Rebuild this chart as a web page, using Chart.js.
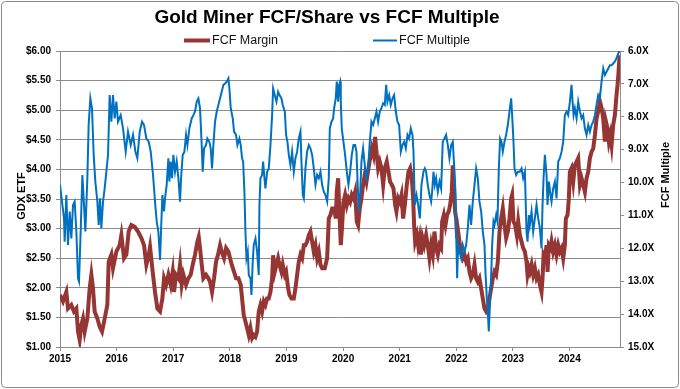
<!DOCTYPE html>
<html>
<head>
<meta charset="utf-8">
<script src="https://cdn.jsdelivr.net/npm/chart.js@4.4.1/dist/chart.umd.min.js"></script>
<style>
html,body{margin:0;padding:0;background:#fff;}
#wrap{width:680px;height:389px;position:relative;}
</style>
</head>
<body>
<div id="wrap"><canvas id="c" width="680" height="389"></canvas></div>
<script>
const chartTitle = "Gold Miner FCF/Share vs FCF Multiple";
const seriesNames = ["FCF Margin", "FCF Multiple"];
const leftAxisTitle = "GDX ETF";
const rightAxisTitle = "FCF Multiple";
const xTicks = [2015, 2016, 2017, 2018, 2019, 2020, 2021, 2022, 2023, 2024];

const marginYears = [
2015.000,2015.053,2015.112,2015.141,2015.200,2015.247,2015.289,2015.318,2015.347,2015.377,2015.406,2015.436,2015.483,2015.524,2015.554,2015.583,2015.612,2015.660,2015.701,2015.742,2015.789,2015.836,2015.860,2015.907,2015.936,2015.995,
2016.054,2016.084,2016.131,2016.172,2016.213,2016.260,2016.319,2016.378,2016.437,2016.484,2016.525,2016.567,2016.590,2016.637,2016.678,2016.720,2016.767,2016.808,2016.837,2016.873,2016.914,2016.955,2016.990,
2017.014,2017.049,2017.091,2017.120,2017.149,2017.179,2017.226,2017.267,2017.308,2017.344,2017.385,2017.426,2017.450,2017.473,2017.503,2017.532,2017.579,2017.621,2017.650,2017.685,2017.721,2017.756,2017.791,2017.827,2017.856,2017.897,2017.933,2017.974,
2018.003,2018.033,2018.074,2018.109,2018.151,2018.192,2018.245,2018.275,2018.304,2018.334,2018.363,2018.393,2018.422,2018.452,2018.481,2018.510,2018.540,2018.569,2018.599,2018.628,2018.658,2018.687,2018.717,2018.746,2018.764,2018.793,2018.823,2018.852,2018.876,2018.911,2018.934,2018.970,2018.993,
2019.029,2019.052,2019.088,2019.129,2019.158,2019.188,2019.217,2019.247,2019.276,2019.306,2019.335,2019.364,2019.394,2019.423,2019.453,2019.482,2019.512,2019.541,2019.571,2019.600,2019.629,2019.676,2019.718,2019.747,2019.777,2019.806,2019.841,2019.870,2019.888,2019.912,2019.929,2019.959,2019.976,
2020.006,2020.035,2020.065,2020.094,2020.124,2020.153,2020.183,2020.212,2020.241,2020.265,2020.294,2020.324,2020.353,2020.383,2020.412,2020.448,2020.477,2020.506,2020.536,2020.565,2020.595,2020.618,2020.648,2020.677,2020.707,2020.736,2020.771,2020.801,2020.830,2020.860,2020.889,2020.919,2020.942,2020.972,
2021.001,2021.031,2021.060,2021.090,2021.125,2021.154,2021.184,2021.213,2021.237,2021.254,2021.272,2021.302,2021.325,2021.349,2021.372,2021.402,2021.431,2021.466,2021.495,2021.525,2021.554,2021.584,2021.613,2021.643,2021.672,2021.702,2021.731,2021.749,2021.778,2021.808,2021.837,2021.866,2021.890,2021.919,2021.937,2021.955,2021.978,2021.996,
2022.014,2022.031,2022.055,2022.084,2022.114,2022.143,2022.173,2022.202,2022.232,2022.261,2022.290,2022.320,2022.349,2022.379,2022.408,2022.438,2022.467,2022.497,2022.526,2022.556,2022.585,2022.614,2022.644,2022.673,2022.703,2022.732,2022.762,2022.791,2022.820,2022.850,2022.879,2022.909,2022.938,2022.968,2022.985,
2023.009,2023.038,2023.068,2023.092,2023.121,2023.151,2023.180,2023.210,2023.239,2023.257,2023.280,2023.298,2023.328,2023.357,2023.386,2023.416,2023.445,2023.475,2023.504,2023.522,2023.540,2023.563,2023.593,2023.610,2023.634,2023.663,2023.681,2023.710,2023.740,2023.769,2023.799,2023.828,2023.858,2023.887,2023.916,2023.934,2023.964,2023.987,
2024.005,2024.034,2024.064,2024.093,2024.123,2024.152,2024.182,2024.211,2024.240,2024.270,2024.299,2024.329,2024.358,2024.388,2024.417,2024.447,2024.476,2024.505,2024.535,2024.564,2024.594,2024.623,2024.641,2024.670,2024.694,2024.718,2024.741,2024.770,2024.800,2024.829,2024.847,2024.865,2024.882
];
const marginValues = [
1.88,1.77,1.93,1.65,1.71,1.60,1.65,1.26,1.12,1.37,1.48,1.26,1.48,1.99,2.22,1.99,1.60,1.48,1.34,1.26,1.48,1.71,2.44,2.56,2.33,2.61,
2.72,2.89,2.50,2.56,2.95,3.06,3.03,2.95,2.84,2.72,2.39,2.56,2.69,2.27,1.93,1.65,1.60,1.82,2.16,2.05,2.22,2.05,2.27,
1.93,2.22,2.16,2.39,2.05,2.22,2.05,2.16,2.22,2.39,2.56,2.78,2.86,2.67,2.39,2.16,2.22,2.16,2.10,1.93,2.16,2.44,2.56,2.72,2.61,2.50,2.67,2.61,
2.50,2.39,2.27,2.16,2.16,2.05,1.54,1.43,1.32,1.20,1.32,1.15,1.20,1.17,1.26,1.60,1.71,1.60,1.77,1.71,1.82,1.82,1.93,2.16,2.55,2.27,2.39,2.50,2.39,2.27,2.39,2.22,2.27,
1.99,1.88,1.82,1.82,1.99,2.22,2.44,2.56,2.50,2.72,2.72,2.78,2.89,2.95,2.78,2.61,2.72,2.50,2.61,2.39,2.33,2.33,2.50,3.17,3.23,3.34,3.34,3.17,3.62,3.85,3.40,2.72,2.95,
3.45,3.57,3.40,3.51,3.45,3.57,3.51,3.62,3.12,3.06,3.34,3.51,3.74,3.91,3.79,4.02,4.19,4.35,4.24,4.55,4.24,4.02,4.13,4.02,3.74,4.02,4.13,3.96,3.79,3.74,3.68,3.40,3.29,3.51,
3.45,3.57,3.17,3.40,3.74,3.96,4.02,3.85,3.51,3.06,2.78,2.89,2.72,2.84,2.56,2.84,2.72,2.89,2.72,2.50,2.72,2.56,2.95,2.67,2.56,2.72,2.67,3.12,3.23,3.06,3.23,3.29,3.40,3.62,4.07,3.68,3.29,3.17,
2.84,2.95,2.78,2.61,2.50,2.56,2.44,2.50,2.27,2.16,2.22,2.39,2.16,2.10,2.16,1.99,1.82,1.65,1.60,1.65,1.82,1.99,2.16,2.27,2.22,2.44,2.95,3.17,3.34,3.06,2.84,2.95,3.17,3.51,3.57,
3.12,3.06,2.89,3.12,2.89,2.78,2.67,2.61,2.44,2.22,2.33,2.27,2.39,2.22,2.33,2.16,2.22,2.05,1.93,2.16,2.55,2.50,2.72,2.27,2.72,2.67,2.78,2.61,2.72,2.56,2.72,2.61,2.67,2.50,2.72,3.17,3.23,3.51,
3.96,4.02,3.79,4.07,4.13,4.19,3.74,3.85,3.74,3.62,3.85,3.96,4.19,4.30,4.35,4.58,4.86,4.98,5.15,5.04,4.86,4.47,4.81,4.69,4.47,4.58,4.41,4.75,4.92,5.26,5.43,5.65,5.93
];

const multipleYears = [
2015.000,2015.035,2015.071,2015.082,2015.112,2015.141,2015.171,2015.200,2015.230,2015.259,2015.289,2015.318,2015.336,2015.365,2015.395,2015.424,2015.448,2015.483,2015.506,2015.536,2015.565,2015.595,2015.624,2015.660,2015.683,2015.707,2015.730,2015.760,2015.789,2015.819,2015.848,2015.877,2015.907,2015.936,2015.966,2015.995,
2016.025,2016.072,2016.113,2016.160,2016.201,2016.249,2016.290,2016.331,2016.366,2016.408,2016.449,2016.484,2016.525,2016.567,2016.602,2016.643,2016.678,2016.708,2016.737,2016.767,2016.784,2016.808,2016.837,2016.855,2016.884,2016.914,2016.932,2016.955,2016.979,
2017.002,2017.032,2017.061,2017.091,2017.120,2017.138,2017.167,2017.197,2017.226,2017.250,2017.285,2017.326,2017.356,2017.385,2017.415,2017.444,2017.473,2017.503,2017.520,2017.544,2017.579,2017.603,2017.638,2017.662,2017.685,2017.709,2017.738,2017.768,2017.797,2017.827,2017.856,2017.886,2017.921,2017.945,2017.974,2017.992,
2018.015,2018.051,2018.074,2018.109,2018.133,2018.168,2018.192,2018.215,2018.234,2018.257,2018.275,2018.293,2018.316,2018.334,2018.363,2018.381,2018.404,2018.422,2018.452,2018.481,2018.510,2018.522,2018.540,2018.569,2018.587,2018.611,2018.628,2018.658,2018.687,2018.717,2018.746,2018.764,2018.793,2018.823,2018.852,2018.876,2018.911,2018.934,2018.970,2018.993,
2019.017,2019.041,2019.070,2019.099,2019.129,2019.158,2019.188,2019.217,2019.247,2019.264,2019.288,2019.306,2019.335,2019.364,2019.394,2019.423,2019.453,2019.482,2019.512,2019.541,2019.571,2019.600,2019.629,2019.659,2019.688,2019.718,2019.747,2019.765,2019.795,2019.824,2019.841,2019.870,2019.888,2019.912,2019.929,2019.947,2019.959,2019.976,
2020.006,2020.035,2020.065,2020.094,2020.124,2020.153,2020.183,2020.212,2020.236,2020.253,2020.277,2020.300,2020.324,2020.353,2020.383,2020.412,2020.442,2020.471,2020.501,2020.530,2020.560,2020.589,2020.618,2020.648,2020.677,2020.707,2020.736,2020.760,2020.783,2020.813,2020.842,2020.872,2020.901,2020.931,2020.960,2020.989,
2021.019,2021.048,2021.078,2021.107,2021.137,2021.166,2021.195,2021.225,2021.243,2021.266,2021.296,2021.325,2021.355,2021.384,2021.419,2021.443,2021.466,2021.495,2021.525,2021.554,2021.572,2021.596,2021.619,2021.643,2021.672,2021.702,2021.731,2021.760,2021.790,2021.819,2021.849,2021.878,2021.908,2021.937,2021.967,2021.984,2021.996,
2022.014,2022.031,2022.055,2022.084,2022.114,2022.143,2022.173,2022.202,2022.232,2022.261,2022.290,2022.320,2022.349,2022.379,2022.408,2022.438,2022.467,2022.497,2022.514,2022.538,2022.556,2022.573,2022.585,2022.609,2022.632,2022.656,2022.673,2022.703,2022.726,2022.750,2022.773,2022.797,2022.820,2022.850,2022.879,2022.909,2022.938,2022.968,2022.985,
2023.009,2023.027,2023.056,2023.086,2023.121,2023.151,2023.180,2023.210,2023.239,2023.257,2023.280,2023.298,2023.328,2023.357,2023.386,2023.416,2023.445,2023.475,2023.504,2023.522,2023.540,2023.563,2023.593,2023.610,2023.634,2023.663,2023.681,2023.710,2023.740,2023.769,2023.799,2023.828,2023.858,2023.887,2023.916,2023.946,2023.975,
2024.005,2024.034,2024.052,2024.070,2024.093,2024.123,2024.152,2024.182,2024.211,2024.240,2024.270,2024.299,2024.329,2024.358,2024.388,2024.417,2024.447,2024.476,2024.505,2024.535,2024.564,2024.594,2024.623,2024.653,2024.682,2024.712,2024.741,2024.770,2024.800,2024.829,2024.859,2024.882
];
const multipleValues = [
10.07,10.58,11.09,11.80,10.38,11.90,10.88,11.70,10.68,10.58,11.49,12.91,13.01,11.49,9.77,10.68,11.49,9.87,8.25,7.44,7.74,9.16,9.97,10.58,11.29,10.48,11.39,10.58,10.18,9.67,9.16,7.34,8.15,7.34,8.05,7.54,
8.15,7.95,8.35,9.06,8.45,8.86,8.55,9.06,9.26,8.45,8.15,8.25,8.66,8.76,9.06,9.77,10.58,11.19,11.49,12.35,11.49,10.38,10.88,10.48,10.07,9.26,9.97,9.36,9.87,
9.16,9.67,9.36,9.87,10.58,9.87,9.16,9.06,8.55,8.86,8.35,8.05,7.95,7.84,7.54,7.44,7.74,8.86,9.67,8.96,8.86,8.66,8.76,8.96,9.57,8.86,8.15,7.84,7.64,7.44,7.24,7.03,6.98,6.93,6.83,7.14,
7.74,8.05,8.45,8.55,8.86,8.66,8.86,9.26,9.36,10.28,11.49,12.30,12.10,12.81,12.91,13.42,12.40,11.90,11.70,12.10,12.81,10.68,9.87,9.77,9.36,9.87,10.18,9.67,9.57,8.86,7.95,7.14,7.34,7.54,7.24,7.34,7.44,7.64,7.84,8.55,
8.76,9.16,9.47,9.06,9.67,9.26,9.06,8.66,8.45,9.36,10.38,10.48,9.57,9.06,8.86,8.96,9.16,9.57,10.07,9.77,9.87,9.67,10.07,10.28,10.38,10.58,9.87,8.35,8.15,8.05,7.74,7.44,6.93,7.54,7.03,6.93,7.54,8.35,
8.76,9.16,9.67,10.07,9.67,9.16,8.86,8.86,9.06,9.87,10.88,10.38,9.36,8.96,9.47,9.87,9.57,8.76,8.15,8.25,8.05,7.84,8.15,7.84,7.74,7.59,7.64,7.03,7.54,7.34,7.64,7.44,7.34,7.84,8.15,8.25,
9.06,8.86,8.76,8.96,8.55,8.66,8.35,8.55,9.06,10.68,10.38,10.68,11.09,10.07,9.67,9.57,9.67,10.07,10.38,10.58,10.28,9.67,10.07,9.87,10.28,9.97,10.18,8.76,8.66,8.55,8.86,9.26,8.86,8.76,9.67,10.28,11.49,
12.91,11.90,12.10,12.30,11.90,12.10,11.90,11.39,10.68,11.29,10.58,10.07,9.57,9.87,10.58,10.88,11.49,11.90,12.71,13.52,13.93,14.53,14.03,13.11,11.90,11.19,11.29,10.99,11.19,9.57,8.66,8.76,9.06,8.76,8.55,8.25,7.84,7.44,7.95,
8.76,9.57,9.77,9.67,9.67,9.57,9.87,9.67,11.49,11.80,10.99,11.29,10.88,11.49,11.09,10.68,11.09,11.39,12.00,10.68,9.87,9.16,9.77,10.68,9.97,10.38,10.58,10.18,9.97,10.48,9.36,9.26,9.06,8.76,7.95,7.84,7.95,
7.54,7.03,7.54,7.95,7.74,8.05,7.54,7.84,8.05,7.95,8.35,8.55,8.25,8.45,8.25,8.15,7.95,7.64,7.34,7.44,6.93,6.53,6.73,6.63,6.53,6.43,6.43,6.38,6.32,6.22,6.07,6.00
];

const RED = '#963634';
const BLUE = '#0070C0';
const GRID = '#8c8c8c';
const FONT = '"Liberation Sans", Arial, sans-serif';

const toPoints = (xs, ys) => xs.map((x, i) => ({ x: x, y: ys[i] }));

const decorations = {
  id: 'decorations',
  afterDraw(chart) {
    const ctx = chart.ctx;
    ctx.save();
    // outer border
    ctx.strokeStyle = '#8a8a8a';
    ctx.lineWidth = 1;
    ctx.beginPath();
    if (ctx.roundRect) ctx.roundRect(1.5, 1.5, 677, 386, 4); else ctx.rect(1.5, 1.5, 677, 386);
    ctx.stroke();
    // title
    ctx.fillStyle = '#000';
    ctx.font = 'bold 19px ' + FONT;
    ctx.textAlign = 'center';
    ctx.textBaseline = 'middle';
    ctx.fillText(chartTitle, 327, 18);
    // legend
    const ds = chart.data.datasets;
    const items = [{x0: 184, x1: 210, tx: 212}, {x0: 373, x1: 397, tx: 399}];
    ctx.font = '12.5px ' + FONT;
    ctx.textAlign = 'left';
    items.forEach((it, i) => {
      ctx.strokeStyle = ds[i].borderColor;
      ctx.lineWidth = ds[i].borderWidth;
      ctx.beginPath();
      ctx.moveTo(it.x0, 40.5);
      ctx.lineTo(it.x1, 40.5);
      ctx.stroke();
      ctx.fillStyle = '#111';
      ctx.fillText(ds[i].label, it.tx, 41);
    });
    // axis titles
    ctx.font = 'bold 11px ' + FONT;
    ctx.fillStyle = '#000';
    ctx.textAlign = 'center';
    ctx.translate(22, 196);
    ctx.rotate(-Math.PI / 2);
    ctx.fillText(leftAxisTitle, 0, 0);
    ctx.setTransform(1, 0, 0, 1, 0, 0);
    ctx.translate(666, 175);
    ctx.rotate(-Math.PI / 2);
    ctx.fillText(rightAxisTitle, 0, 0);
    ctx.restore();
  }
};

new Chart(document.getElementById('c'), {
  type: 'line',
  data: {
    datasets: [
      {
        label: seriesNames[0],
        data: toPoints(marginYears, marginValues),
        borderColor: RED,
        backgroundColor: RED,
        borderWidth: 4,
        pointRadius: 0,
        tension: 0,
        yAxisID: 'y',
        order: 2
      },
      {
        label: seriesNames[1],
        data: toPoints(multipleYears, multipleValues),
        borderColor: BLUE,
        backgroundColor: BLUE,
        borderWidth: 2,
        pointRadius: 0,
        tension: 0,
        yAxisID: 'y2',
        order: 1
      }
    ]
  },
  options: {
    responsive: false,
    animation: false,
    devicePixelRatio: 1,
    layout: { padding: { top: 51, left: 0, right: 0, bottom: 0 } },
    plugins: {
      legend: { display: false },
      title: { display: false },
      tooltip: { enabled: false }
    },
    scales: {
      x: {
        type: 'linear',
        min: 2015,
        max: 2024.89,
        afterBuildTicks: (s) => { s.ticks = xTicks.map(v => ({ value: v })); },
        afterFit: (s) => { s.height = 42; },
        grid: { drawOnChartArea: false, drawTicks: true, tickLength: 4, color: GRID },
        border: { color: GRID, width: 1 },
        ticks: {
          padding: 2,
          maxRotation: 0,
          autoSkip: false,
          color: '#000',
          font: { family: FONT, size: 10, weight: 'bold' },
          callback: (v) => String(v)
        }
      },
      y: {
        position: 'left',
        min: 1,
        max: 6,
        afterFit: (s) => { s.width = 60; },
        grid: { color: GRID, lineWidth: 1, tickLength: 4 },
        border: { color: GRID, width: 1 },
        ticks: {
          stepSize: 0.5,
          padding: 5,
          color: '#000',
          font: { family: FONT, size: 10, weight: 'bold' },
          callback: (v) => '$' + Number(v).toFixed(2)
        }
      },
      y2: {
        position: 'right',
        reverse: true,
        min: 6,
        max: 15,
        afterFit: (s) => { s.width = 60; },
        grid: { drawOnChartArea: false, tickLength: 4, color: GRID },
        border: { color: GRID, width: 1 },
        ticks: {
          stepSize: 1,
          padding: 4,
          color: '#000',
          font: { family: FONT, size: 10, weight: 'bold' },
          callback: (v) => Number(v).toFixed(1) + 'X'
        }
      }
    }
  },
  plugins: [decorations]
});
</script>
</body>
</html>
